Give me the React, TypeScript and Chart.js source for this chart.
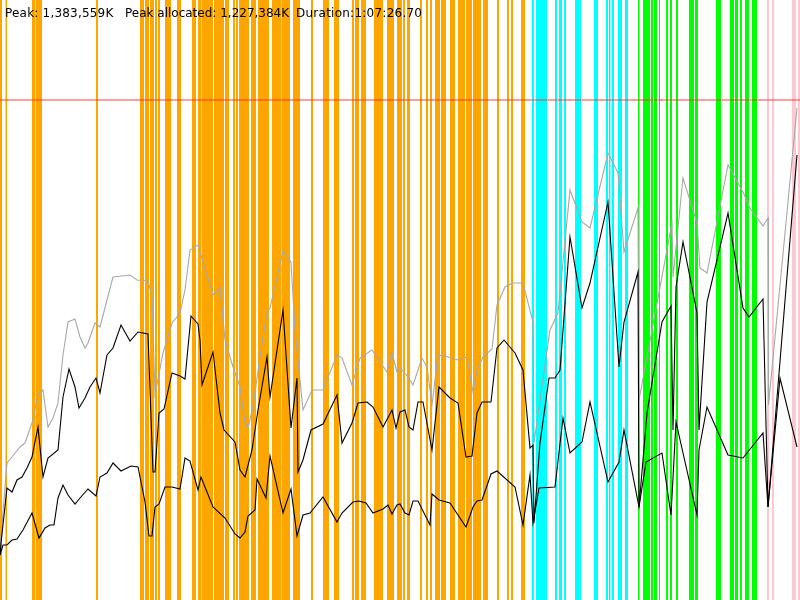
import React, { useEffect, useRef } from "react";
import { Chart, registerables } from "chart.js";

Chart.register(...registerables);

// time axis: sample time index (0..800 ≈ 0..1:07:26.70), memory axis: scaled units (0..600)
const TIME_MAX = 800;
const MEM_MAX = 600;
const HEAP_LIMIT = 500;

const headerLabels = ["Peak: 1,383,559K", "Peak allocated: 1,227,384K", "Duration:1:07:26.70"];

// total heap size (gray)
const heapTotal: [number, number][] = [
  [0, 52], [7, 137], [12, 143], [20, 153], [25, 157], [32, 177], [38, 205], [43, 210], [48, 173], [53, 182],
  [58, 197], [63, 245], [68, 278], [75, 281], [80, 263], [85, 252], [88, 257], [95, 277], [100, 273], [113, 323],
  [130, 325], [137, 320], [148, 319], [152, 305], [155, 205], [163, 247], [172, 277], [180, 287], [185, 310], [190, 350],
  [198, 355], [200, 348], [213, 305], [220, 312], [225, 260], [233, 233], [240, 213], [245, 177], [248, 172], [253, 193],
  [260, 243], [267, 288], [270, 292], [283, 349], [291, 338], [295, 270], [303, 190], [312, 210], [323, 210], [337, 245],
  [342, 242], [352, 215], [360, 242], [372, 250], [387, 228], [392, 247], [397, 228], [400, 232], [408, 223], [413, 215],
  [422, 242], [427, 233], [432, 195], [438, 245], [448, 243], [458, 240], [467, 243], [473, 208], [477, 230], [483, 243],
  [492, 251], [497, 295], [505, 313], [513, 317], [523, 317], [533, 278], [534, 157], [550, 270], [558, 287], [570, 410],
  [582, 378], [590, 372], [608, 447], [618, 427], [624, 348], [638, 392], [639, 200], [672, 377], [673, 323], [683, 422],
  [697, 377], [700, 332], [707, 327], [728, 435], [743, 408], [750, 392], [763, 374], [768, 382], [768.5, 195], [797, 492],
];

// used memory (upper black)
const heapUsed: [number, number][] = [
  [0, 45], [1, 57], [7, 112], [12, 108], [17, 120], [22, 123], [27, 132], [32, 143], [38, 173], [43, 123],
  [48, 142], [58, 150], [63, 203], [69, 231], [75, 213], [79, 192], [85, 202], [90, 213], [96, 222], [100, 207],
  [107, 245], [113, 252], [121, 275], [130, 259], [138, 268], [148, 266], [153, 128], [155, 128], [159, 187], [164, 191],
  [172, 227], [180, 224], [185, 221], [191, 284], [198, 276], [200, 260], [202, 215], [213, 248], [220, 187], [224, 170],
  [235, 158], [240, 130], [245, 123], [252, 150], [258, 190], [267, 243], [270, 203], [283, 290], [291, 172], [297, 222],
  [298, 128], [303, 140], [311, 170], [323, 176], [337, 205], [342, 157], [352, 177], [358, 197], [367, 198], [373, 193],
  [383, 173], [392, 190], [396, 172], [400, 188], [405, 190], [409, 173], [413, 170], [418, 198], [423, 198], [432, 150],
  [439, 213], [450, 202], [458, 197], [466, 143], [472, 144], [477, 187], [482, 198], [491, 198], [497, 252], [504, 260],
  [515, 247], [523, 230], [530, 152], [533, 155], [534, 77], [540, 157], [549, 222], [555, 222], [560, 230], [570, 363],
  [582, 292], [590, 317], [608, 398], [619, 233], [624, 278], [638, 328], [639, 93], [647, 187], [662, 278], [671, 294],
  [673, 170], [676, 313], [683, 358], [697, 287], [699, 170], [707, 298], [728, 387], [743, 292], [749, 283], [763, 301],
  [768, 93], [797, 445],
];

// live memory (lower black)
const heapLive: [number, number][] = [
  [0, 45], [3, 55], [7, 55], [12, 60], [17, 61], [23, 70], [32, 87], [39, 62], [45, 72], [50, 75],
  [54, 75], [58, 102], [63, 115], [68, 105], [75, 96], [80, 102], [88, 111], [96, 104], [100, 123], [107, 127],
  [113, 137], [121, 129], [131, 134], [138, 133], [145, 98], [149, 64], [152, 64], [155, 93], [159, 96], [165, 113],
  [172, 113], [180, 111], [185, 142], [190, 139], [198, 110], [201, 123], [213, 93], [225, 82], [235, 66], [240, 62],
  [245, 68], [248, 84], [255, 90], [257, 121], [266, 102], [270, 144], [283, 87], [291, 111], [297, 64], [303, 85],
  [310, 87], [323, 103], [337, 78], [342, 87], [353, 98], [359, 99], [366, 97], [373, 87], [383, 91], [388, 95],
  [392, 86], [397, 95], [400, 96], [405, 87], [409, 85], [413, 99], [418, 99], [430, 75], [432, 106], [439, 100],
  [450, 97], [466, 73], [473, 93], [477, 99], [482, 100], [491, 126], [497, 129], [515, 113], [523, 75], [530, 125],
  [533, 77], [539, 112], [555, 113], [563, 182], [570, 147], [582, 158], [590, 198], [608, 118], [619, 138], [624, 170],
  [639, 93], [646, 138], [662, 147], [671, 85], [676, 178], [697, 85], [699, 150], [707, 193], [728, 145], [743, 142],
  [763, 167], [768, 93], [780, 222], [797, 153],
];

// event intervals [start, end] on the time axis
const orangeEvents: [number, number][] = [
  [0, 2], [5.5, 7], [32, 35], [35.5, 42], [96, 98], [140, 144], [145, 149], [150, 154], [155, 157], [158, 160],
  [165, 171], [177, 181], [192, 196], [198, 201], [201.5, 213], [214, 224], [225, 229], [233, 235], [236, 238], [239, 249],
  [251, 256], [258, 269], [272, 281], [281.5, 290], [293, 300], [311, 313], [323, 329], [334, 339], [352, 354], [355, 359],
  [361, 366], [374, 383], [387, 394], [397, 402], [403, 405], [407, 410], [420, 422], [426, 428], [430, 432], [435, 440],
  [441, 446], [450, 455], [458, 465], [466, 472], [473, 481], [483, 488], [497, 499], [507, 509], [511, 513], [521, 525],
];
const cyanEvents: [number, number][] = [
  [532, 534], [536, 547], [555, 557], [559, 562], [564, 566], [575, 581], [594, 598], [606, 608], [609, 610.5], [612, 614],
  [618, 622], [625, 628],
];
const greenEvents: [number, number][] = [
  [638, 639.5], [643, 650], [651, 653], [654, 657], [659, 660], [666, 668], [670, 672], [676, 678], [689, 694], [695, 698],
  [716, 721], [730, 734], [735, 738], [740, 742], [745, 749], [752, 757],
];
const pinkEvents: [number, number][] = [[767, 769], [772, 774], [792, 796], [798, 800]];

const eventGroups = [
  { color: "#FFA500", events: orangeEvents },
  { color: "#00FFFF", events: cyanEvents },
  { color: "#00FF00", events: greenEvents },
  { color: "#FFC8D0", events: pinkEvents },
];

const toPoints = (arr: [number, number][]) => arr.map(([x, y]) => ({ x, y }));

const eventsPlugin = {
  id: "eventBands",
  beforeDatasetsDraw(chart: any) {
    const { ctx, chartArea, scales } = chart;
    const xs = scales.x;
    ctx.save();
    for (const g of eventGroups) {
      ctx.fillStyle = g.color;
      for (const [s, e] of g.events) {
        const x0 = xs.getPixelForValue(s);
        const x1 = xs.getPixelForValue(e);
        ctx.fillRect(x0, chartArea.top, x1 - x0, chartArea.bottom - chartArea.top);
      }
    }
    ctx.restore();
  },
};

export default function App() {
  const ref = useRef<HTMLCanvasElement | null>(null);
  useEffect(() => {
    if (!ref.current) return;
    const chart = new Chart(ref.current, {
      type: "line",
      data: {
        datasets: [
          {
            label: "limit",
            data: [{ x: 0, y: HEAP_LIMIT }, { x: TIME_MAX, y: HEAP_LIMIT }],
            borderColor: "rgba(255,40,40,0.6)",
            borderWidth: 1.6,
            pointRadius: 0,
          },
          {
            label: "used",
            data: toPoints(heapUsed),
            borderColor: "#000000",
            borderWidth: 1.1,
            pointRadius: 0,
            tension: 0,
          },
          {
            label: "live",
            data: toPoints(heapLive),
            borderColor: "#000000",
            borderWidth: 1.1,
            pointRadius: 0,
            tension: 0,
          },
          {
            label: "total",
            data: toPoints(heapTotal),
            borderColor: "#a8a8a8",
            borderWidth: 1.1,
            pointRadius: 0,
            tension: 0,
          },
        ],
      },
      options: {
        animation: false,
        responsive: false,
        maintainAspectRatio: false,
        layout: { padding: 0 },
        parsing: false as any,
        normalized: true,
        scales: {
          x: { type: "linear", min: 0, max: TIME_MAX, display: false },
          y: { type: "linear", min: 0, max: MEM_MAX, display: false },
        },
        plugins: {
          legend: { display: false },
          tooltip: { enabled: false },
          title: { display: false },
        },
        events: [],
      },
      plugins: [eventsPlugin],
    });
    return () => chart.destroy();
  }, []);

  const labelLeft = [5, 125, 296];
  const labelSpacing = ["0.2px", "0px", "0.25px"];
  return (
    <div style={{ position: "fixed", left: 0, top: 0, width: 800, height: 600, background: "#ffffff" }}>
      <canvas ref={ref} width={800} height={600} style={{ display: "block", width: 800, height: 600 }} />
      {headerLabels.map((t, i) => (
        <span
          key={i}
          style={{
            position: "absolute",
            left: labelLeft[i],
            top: 7,
            font: '12px "DejaVu Sans", sans-serif',
            lineHeight: "12px",
            letterSpacing: labelSpacing[i],
            color: "#000",
            whiteSpace: "pre",
          }}
        >
          {t}
        </span>
      ))}
    </div>
  );
}
